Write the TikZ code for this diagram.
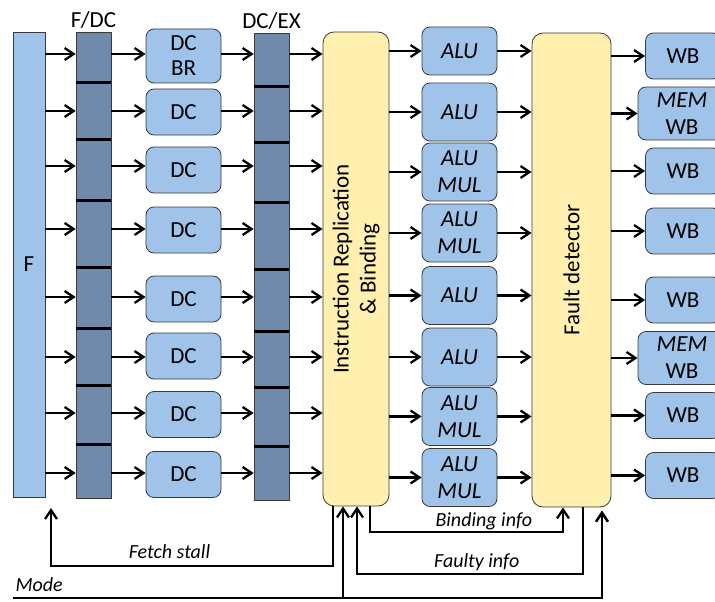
\documentclass[tikz,border=0pt]{standalone}
\usepackage{fontspec}
\setmainfont{Carlito}
\usetikzlibrary{arrows.meta,positioning}
\definecolor{ink}{HTML}{000000}
\definecolor{rim}{HTML}{3A3A3A}
\definecolor{unitbg}{HTML}{9FC3E9}
\definecolor{regbg}{HTML}{7189AB}
\definecolor{ctrlbg}{HTML}{FFF0B0}
\tikzset{
  every node/.style={font=\fontsize{23}{27}\selectfont, text=ink},
  fetchbox/.style={draw=rim, line width=0.8pt, fill=unitbg, minimum width=32pt,
                   minimum height=465pt, inner sep=0pt},
  unit/.style={draw=rim, line width=0.8pt, rounded corners=8pt, fill=unitbg,
               minimum width=75pt, minimum height=46pt, align=center, inner sep=0pt},
  alubox/.style={unit, minimum height=58pt, font=\fontsize{23}{27}\selectfont\itshape},
  membox/.style={unit, minimum width=88pt, minimum height=53pt, font=\fontsize{23}{27}\selectfont},
  regcell/.style={draw=rim, line width=0.6pt, fill=regbg, minimum width=35pt, inner sep=0pt},
  ctrl/.style={draw=rim, line width=0.8pt, rounded corners=11pt, fill=ctrlbg, inner sep=0pt},
  sep/.style={line width=3pt, draw=ink},
  arr/.style={-{Straight Barb[length=9pt, width=12pt]}, line width=2.3pt, draw=ink},
  lbl/.style={font=\fontsize{20}{23}\selectfont\itshape, text=ink},
}

\begin{document}
\begin{tikzpicture}[x=1pt, y=-1pt]
\useasboundingbox (0,0) rectangle (715,602);

% fetch and the two pipeline registers
\node[fetchbox] (f) at (29,264.5) {F};
\foreach \k/\yt/\hh in {1/32/50,2/82/57,3/139/61,4/200/67,5/267/61,6/328/57,7/385/59,8/444/54}
  \node[regcell, anchor=north, minimum height=\hh] (fdc\k) at (93.5,\yt) {};
\foreach \k/\yt/\hh in {1/33/53,2/86/56,3/142/60,4/202/67,5/269/62,6/331/56,7/387/59,8/446/54}
  \node[regcell, anchor=north, minimum height=\hh] (dcex\k) at (271.5,\yt) {};
\foreach \k in {1,...,7}
  \draw[sep] (fdc\k.south west) -- (fdc\k.south east)
             (dcex\k.south west) -- (dcex\k.south east);
\node[above=0pt of fdc1] (fdclbl) {F/DC};
\node[above=0pt of dcex1] (dcexlbl) {DC/EX};

% decode
\node[unit, minimum height=54pt, font=\fontsize{23}{25}\selectfont] (dc1) at (183.5,56) {DC\\BR};
\foreach \k/\yc in {2/112,3/170,4/230,5/299,6/356,7/414.5,8/474.5}
  \node[unit] (dc\k) at (183.5,\yc) {DC};

% replication / binding, execute, fault detector
\node[ctrl, minimum width=66pt, minimum height=474pt] (irb) at (356,269) {};
\node[rotate=90, align=center] (irbtxt) at (irb) {Instruction Replication\\\& Binding};

\node[alubox, minimum height=48pt] (alu1) at (459.5,51) {ALU};
\node[alubox] (alu2) at (459.5,112) {ALU};
\node[alubox] (alu3) at (459.5,172) {ALU\\MUL};
\node[alubox] (alu4) at (459.5,233) {ALU\\MUL};
\node[alubox] (alu5) at (459.5,295.5) {ALU};
\node[alubox] (alu6) at (459.5,357) {ALU};
\node[alubox] (alu7) at (459.5,416.5) {ALU\\MUL};
\node[alubox] (alu8) at (459.5,477.5) {ALU\\MUL};

\node[ctrl, minimum width=79pt, minimum height=474pt] (fd) at (571.5,270) {};
\node[rotate=90] (fdtxt) at (fd) {Fault detector};

% write back
\node[unit] (wb1) at (683,56) {WB};
\node[membox] (wb2) at (682,113.5) {\textit{MEM}\\WB};
\node[unit] (wb3) at (683,171) {WB};
\node[unit] (wb4) at (683,231) {WB};
\node[unit] (wb5) at (683,300) {WB};
\node[membox] (wb6) at (682,358) {\textit{MEM}\\WB};
\node[unit] (wb7) at (683,415.5) {WB};
\node[unit] (wb8) at (683,475.5) {WB};

% lanes
\foreach \k/\r in {1/54,2/111,3/166,4/229,5/297,6/357,7/413,8/473} {
  \coordinate (row\k) at (0,\r);
  \draw[arr] (f.east |- row\k) -- (fdc\k.west |- row\k);
  \draw[arr] (fdc\k.east |- row\k) -- (dc\k.west |- row\k);
  \draw[arr] (dc\k.east |- row\k) -- (dcex\k.west |- row\k);
  \draw[arr] (dcex\k.east |- row\k) -- (irb.west |- row\k);
  \draw[arr] (irb.east |- alu\k) -- (alu\k);
  \draw[arr] (alu\k) -- (fd.west |- alu\k);
  \draw[arr] (fd.east |- wb\k) -- (wb\k);
}

% control signals
\coordinate (stallend) at (51,508);
\coordinate (stallturn) at (333,566);
\draw[arr] (irb.south -| stallturn) -- (stallturn)
  -- node[lbl, above=3pt, pos=0.58] (stalllbl) {Fetch stall} (stallturn -| stallend) -- (stallend);

\coordinate (bindturn) at (370,532);
\coordinate (bindback) at (563,532);
\draw[arr] (irb.south -| bindturn) -- (bindturn)
  -- node[lbl, above=-2pt, pos=0.59] (bindlbl) {Binding info} (bindback) -- (fd.south -| bindback);

\coordinate (faultturn) at (583,574);
\coordinate (faultback) at (357,574);
\draw[arr] (fd.south -| faultturn) -- (faultturn)
  -- node[lbl, above=-1pt, pos=0.47] (faultlbl) {Faulty info} (faultback) -- (irb.south -| faultback);

\coordinate (modestart) at (13,598);
\coordinate (modeirb) at (343,598);
\coordinate (modefd) at (602,598);
\draw[arr, line width=2.6pt] (modestart) -- (modefd) -- ([yshift=-3pt]fd.south -| modefd);
\draw[arr] (modeirb) -- (irb.south -| modeirb);
\node[lbl, anchor=base west] (modelbl) at (12,591) {Mode};

\end{tikzpicture}
\end{document}
